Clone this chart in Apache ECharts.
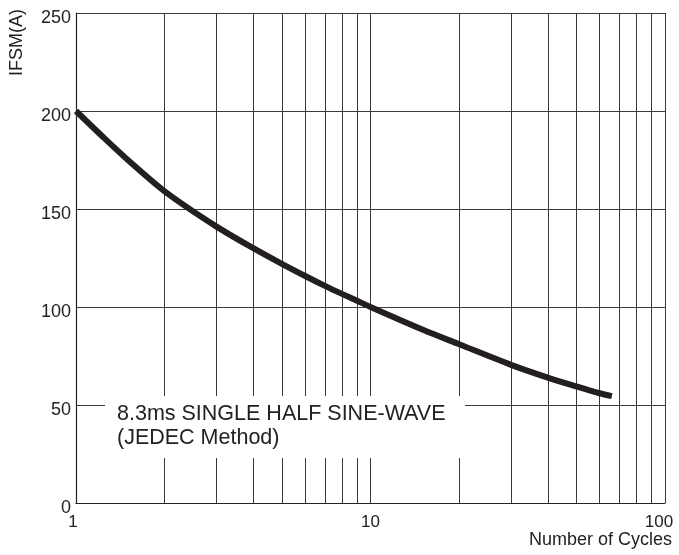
<!DOCTYPE html>
<html>
<head>
<meta charset="utf-8">
<script src="https://cdn.jsdelivr.net/npm/echarts@6/dist/echarts.min.js"></script>
<style>html,body{margin:0;padding:0;background:#fff;}#c{width:679px;height:555px;}</style>
</head>
<body>
<div id="c"></div>
<script>
const cycles = [1, 1.25, 1.5, 2, 3, 4, 5, 6, 7, 8, 9, 10, 15, 20, 30, 40, 50, 60, 66];
const ifsm   = [200, 186, 175, 159, 141, 130, 122, 115.8, 110.8, 106.7, 103.2, 100, 88.5, 81, 70.5, 64, 59.5, 56, 54.5];
const minorGridX = [2, 3, 4, 5, 6, 7, 8, 9, 20, 30, 40, 50, 60, 70, 80, 90];
const yTicks = [0, 50, 100, 150, 200, 250];
const annotation = ['8.3ms SINGLE HALF SINE-WAVE', '(JEDEC Method)'];

const chart = echarts.init(document.getElementById('c'));
const font = 'Liberation Sans, Arial, Helvetica, sans-serif';
const gridColor = '#3a3a3a';
chart.setOption({
  animation: false,
  backgroundColor: '#fff',
  grid: { left: 76, right: 14, top: 13, bottom: 52, containLabel: false, outerBoundsMode: 'none' },
  xAxis: {
    type: 'log', logBase: 10, min: 1, max: 100,
    name: 'Number of Cycles', nameLocation: 'end', nameGap: 7,
    nameTextStyle: { fontFamily: font, fontSize: 18, color: '#222', align: 'right', verticalAlign: 'top', padding: [28, 0, 0, 0] },
    axisLine: { show: true, lineStyle: { color: '#222', width: 1.2 } },
    axisTick: { show: false },
    axisLabel: { fontFamily: font, fontSize: 17, color: '#222', margin: 11,
      formatter: v => v === 1 ? '{a|1}' : (v === 100 ? '{b|100}' : String(v)),
      rich: {
        a: { fontFamily: font, fontSize: 17, color: '#222', padding: [0, 6, 0, 0] },
        b: { fontFamily: font, fontSize: 17, color: '#222', padding: [0, 12, 0, 0] }
      }
    },
    splitLine: { show: true, lineStyle: { color: gridColor, width: 1 } },
    minorTick: { show: false }, minorSplitLine: { show: false }
  },
  yAxis: {
    type: 'value', min: 0, max: 250, interval: 50,
    axisLine: { show: true, lineStyle: { color: '#222', width: 1.2 } },
    axisTick: { show: false },
    axisLabel: { fontFamily: font, fontSize: 18, color: '#222', margin: 5, verticalAlign: 'top', lineHeight: 11,
      formatter: v => yTicks.includes(v) ? String(v) : '' },
    splitLine: { show: true, lineStyle: { color: gridColor, width: 1 } }
  },
  series: [{
    type: 'line',
    data: cycles.map((c, i) => [c, ifsm[i]]),
    smooth: 0.3,
    showSymbol: false,
    lineStyle: { color: '#231f20', width: 6 },
    z: 5,
    markLine: {
      silent: true, symbol: 'none', animation: false,
      label: { show: false },
      lineStyle: { color: gridColor, width: 1, type: 'solid' },
      emphasis: { disabled: true },
      data: minorGridX.map(v => ({ xAxis: v }))
    }
  }],
  graphic: [
    { type: 'rect', z: 100, shape: { x: 105, y: 396, width: 360, height: 62 }, style: { fill: '#fff' } },
    { type: 'text', z: 101, left: 117, top: 402,
      style: { text: annotation.join('\n'), font: '21.5px ' + font, fill: '#222', lineHeight: 24 } },
    { type: 'text', z: 101, left: 8, top: 9, rotation: Math.PI / 2,
      style: { text: 'IFSM(A)', font: '18px ' + font, fill: '#222' } }
  ]
});
</script>
</body>
</html>
